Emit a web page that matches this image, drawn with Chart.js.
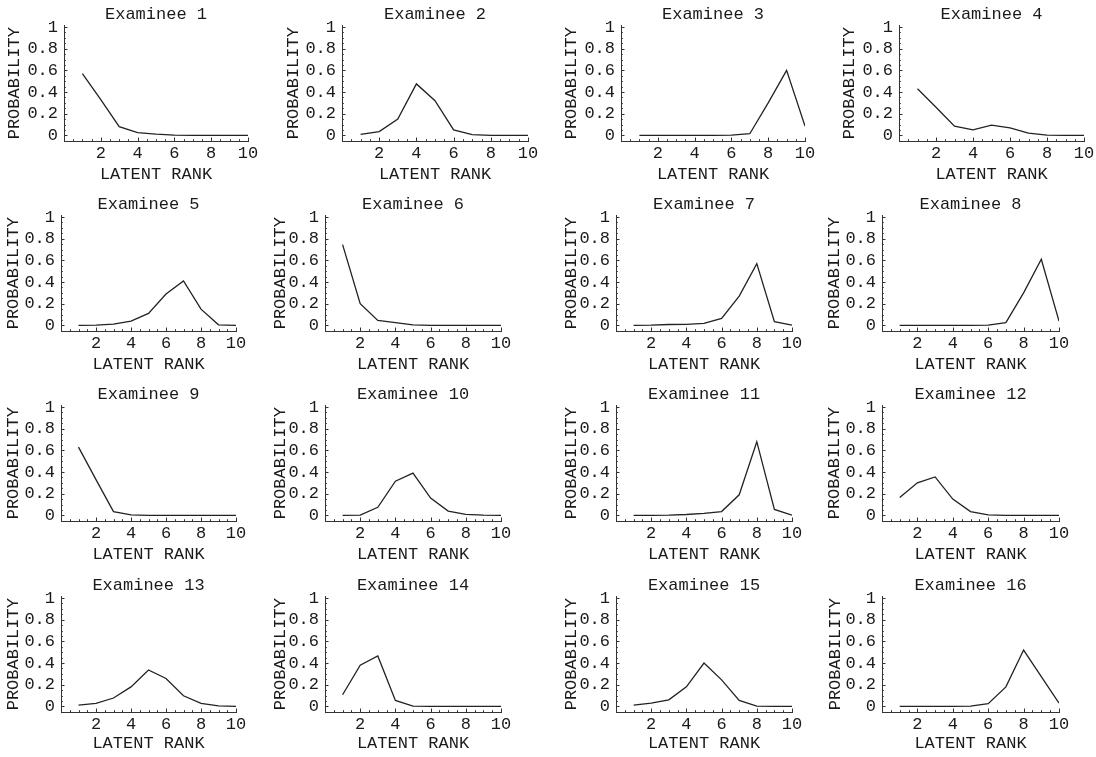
<!DOCTYPE html>
<html>
<head>
<meta charset="utf-8">
<title>Latent rank membership profiles</title>
<script src="https://cdn.jsdelivr.net/npm/chart.js@4.4.1/dist/chart.umd.min.js"></script>
<style>
  html, body { margin: 0; padding: 0; background: #fff; }
  #sheet { position: relative; width: 1096px; height: 757px; overflow: hidden; background: #fff; }
  #sheet canvas { position: absolute; }
</style>
</head>
<body>
<div id="sheet"></div>
<script>
// Latent ranks on the horizontal axis
const ranks = [1, 2, 3, 4, 5, 6, 7, 8, 9, 10];
const xTickValues = [2, 4, 6, 8, 10];
const yTickValues = [0, 0.2, 0.4, 0.6, 0.8, 1];

// Membership probability of each examinee at each latent rank
const examinee1  = [0.57, 0.33, 0.08, 0.025, 0.012, 0.003, 0, 0, 0, 0];
const examinee2  = [0.01, 0.035, 0.15, 0.475, 0.32, 0.05, 0.006, 0, 0, 0];
const examinee3  = [0, 0, 0, 0, 0, 0.002, 0.015, 0.30, 0.60, 0.085];
const examinee4  = [0.43, 0.26, 0.085, 0.05, 0.095, 0.07, 0.02, 0.003, 0, 0];
const examinee5  = [0, 0.002, 0.012, 0.04, 0.11, 0.29, 0.41, 0.15, 0.005, 0];
const examinee6  = [0.745, 0.20, 0.045, 0.025, 0.005, 0, 0, 0, 0, 0];
const examinee7  = [0, 0.002, 0.008, 0.01, 0.018, 0.065, 0.27, 0.57, 0.035, 0.003];
const examinee8  = [0, 0, 0, 0, 0, 0.003, 0.025, 0.30, 0.61, 0.04];
const examinee9  = [0.63, 0.33, 0.035, 0.005, 0, 0, 0, 0, 0, 0];
const examinee10 = [0, 0.002, 0.075, 0.315, 0.39, 0.16, 0.04, 0.01, 0.002, 0];
const examinee11 = [0, 0, 0.002, 0.008, 0.018, 0.035, 0.19, 0.68, 0.055, 0.002];
const examinee12 = [0.165, 0.30, 0.355, 0.15, 0.035, 0.005, 0, 0, 0, 0];
const examinee13 = [0.012, 0.028, 0.077, 0.18, 0.336, 0.257, 0.098, 0.028, 0.005, 0];
const examinee14 = [0.107, 0.38, 0.465, 0.055, 0.003, 0, 0, 0, 0, 0];
const examinee15 = [0.012, 0.03, 0.06, 0.18, 0.40, 0.245, 0.055, 0.003, 0, 0];
const examinee16 = [0, 0, 0, 0, 0.003, 0.025, 0.18, 0.52, 0.275, 0.03];

const profiles = [
  examinee1, examinee2, examinee3, examinee4,
  examinee5, examinee6, examinee7, examinee8,
  examinee9, examinee10, examinee11, examinee12,
  examinee13, examinee14, examinee15, examinee16
];
const panelTitles = profiles.map((_, i) => 'Examinee ' + (i + 1));

// Page geometry of each panel: axis origin column, right end, pixel row of zero
const panelFrames = [
  { left: 64.0,  right: 247.5,  zero: 136, labelGap: 50.0, titleDrop: 33 },
  { left: 341.7, right: 527.5,  zero: 136, labelGap: 48.5, titleDrop: 33 },
  { left: 621.0, right: 805.0,  zero: 136, labelGap: 49.3, titleDrop: 33 },
  { left: 898.7, right: 1084.0, zero: 136, labelGap: 49.4, titleDrop: 33 },
  { left: 60.7,  right: 236.0,  zero: 326, labelGap: 47.7, titleDrop: 33 },
  { left: 325.0, right: 501.0,  zero: 326, labelGap: 45.0, titleDrop: 33 },
  { left: 616.3, right: 792.0,  zero: 326, labelGap: 44.3, titleDrop: 33 },
  { left: 881.5, right: 1058.0, zero: 326, labelGap: 47.2, titleDrop: 33 },
  { left: 60.7,  right: 236.0,  zero: 516, labelGap: 47.7, titleDrop: 33 },
  { left: 325.0, right: 501.0,  zero: 516, labelGap: 45.0, titleDrop: 33 },
  { left: 616.3, right: 792.0,  zero: 516, labelGap: 44.3, titleDrop: 33 },
  { left: 881.5, right: 1058.0, zero: 516, labelGap: 47.2, titleDrop: 33 },
  { left: 60.7,  right: 236.0,  zero: 707, labelGap: 47.7, titleDrop: 31 },
  { left: 325.0, right: 501.0,  zero: 707, labelGap: 45.0, titleDrop: 31 },
  { left: 616.3, right: 792.0,  zero: 707, labelGap: 45.0, titleDrop: 31 },
  { left: 881.5, right: 1058.0, zero: 707, labelGap: 47.0, titleDrop: 31 }
];

const Y_MIN = -0.052, Y_MAX = 1.015;
const PX_PER_UNIT_Y = 108.8;
const FONT_FAMILY = "'Liberation Mono', 'DejaVu Sans Mono', monospace";
const FONT_SIZE = 17;
const LINE_H = FONT_SIZE * 1.2;
const Y_SCALE_W = 64;     // width reserved left of the vertical axis
const X_SCALE_H = 46;     // height reserved below the horizontal axis
const RIGHT_PAD = 14;
const TOP_PAD = 2;
const TITLE_PAD_BOTTOM = 1;
const INK = '#1a1a1a';

// Short inward tick marks, majors and minors, on both axes
const inwardTicks = {
  id: 'inwardTicks',
  afterDraw(chart) {
    const { ctx, chartArea, scales } = chart;
    const xs = scales.x, ys = scales.y;
    ctx.save();
    ctx.strokeStyle = '#333';
    ctx.lineWidth = 1;
    ctx.beginPath();
    for (let v = 0.5; v <= 10.001; v += 0.5) {
      const major = Math.abs(v / 2 - Math.round(v / 2)) < 1e-6;
      const len = major ? 3.5 : 1.8;
      const px = Math.round(xs.getPixelForValue(v)) + 0.5;
      ctx.moveTo(px, chartArea.bottom);
      ctx.lineTo(px, chartArea.bottom - len);
    }
    for (let k = 0; k <= 20; k++) {
      const v = k * 0.05;
      const major = k % 4 === 0;
      const len = major ? 3.5 : 1.8;
      const py = Math.round(ys.getPixelForValue(v)) + 0.5;
      ctx.moveTo(chartArea.left, py);
      ctx.lineTo(chartArea.left + len, py);
    }
    ctx.stroke();
    ctx.restore();
  }
};

const sheet = document.getElementById('sheet');

profiles.forEach((values, i) => {
  const f = panelFrames[i];
  const chartTop = f.zero - Y_MAX * PX_PER_UNIT_Y;
  const chartBottom = f.zero - Y_MIN * PX_PER_UNIT_Y;
  const titleH = LINE_H + TITLE_PAD_BOTTOM;
  const cLeft = f.left - Y_SCALE_W;
  const cTop = chartTop - titleH - TOP_PAD;
  const cWidth = Math.round((f.right - f.left) + Y_SCALE_W + RIGHT_PAD);
  const cHeight = Math.round(chartBottom + X_SCALE_H - cTop);

  const canvas = document.createElement('canvas');
  canvas.width = cWidth;
  canvas.height = cHeight;
  canvas.style.width = cWidth + 'px';
  canvas.style.height = cHeight + 'px';
  canvas.style.left = cLeft + 'px';
  canvas.style.top = cTop + 'px';
  sheet.appendChild(canvas);

  const font = { family: FONT_FAMILY, size: FONT_SIZE, lineHeight: 1.2 };

  new Chart(canvas, {
    type: 'line',
    data: {
      datasets: [{
        data: ranks.map((r, k) => ({ x: r, y: values[k] })),
        borderColor: '#222',
        borderWidth: 1.3,
        pointRadius: 0,
        tension: 0,
        fill: false
      }]
    },
    options: {
      responsive: false,
      animation: false,
      events: [],
      devicePixelRatio: 1,
      layout: { padding: { left: 0, top: TOP_PAD, right: RIGHT_PAD, bottom: 0 } },
      plugins: {
        legend: { display: false },
        tooltip: { enabled: false },
        title: {
          display: true,
          text: panelTitles[i],
          fullSize: false,
          color: INK,
          font: { ...font, weight: 'normal' },
          padding: { top: 0, bottom: TITLE_PAD_BOTTOM }
        }
      },
      scales: {
        x: {
          type: 'linear',
          min: 0,
          max: 10,
          afterBuildTicks: s => { s.ticks = xTickValues.map(v => ({ value: v })); },
          afterFit: s => { s.height = X_SCALE_H; },
          grid: { display: false, drawTicks: false },
          border: { display: true, color: '#333', width: 1 },
          ticks: {
            color: INK,
            font,
            padding: 2,
            maxRotation: 0,
            autoSkip: false,
            callback: v => String(v)
          },
          title: {
            display: true,
            text: 'LATENT RANK',
            color: INK,
            font,
            padding: { top: 0, bottom: X_SCALE_H - f.titleDrop - LINE_H / 2 }
          }
        },
        y: {
          type: 'linear',
          min: Y_MIN,
          max: Y_MAX,
          afterBuildTicks: s => { s.ticks = yTickValues.map(v => ({ value: v })); },
          afterFit: s => { s.width = Y_SCALE_W; },
          grid: { display: false, drawTicks: false },
          border: { display: true, color: '#333', width: 1 },
          ticks: {
            color: INK,
            font,
            padding: 6,
            autoSkip: false,
            callback: v => String(v)
          },
          title: {
            display: true,
            text: 'PROBABILITY',
            color: INK,
            font,
            padding: { top: Y_SCALE_W - f.labelGap - LINE_H / 2, bottom: 0 }
          }
        }
      }
    },
    plugins: [inwardTicks]
  });
});
</script>
</body>
</html>
